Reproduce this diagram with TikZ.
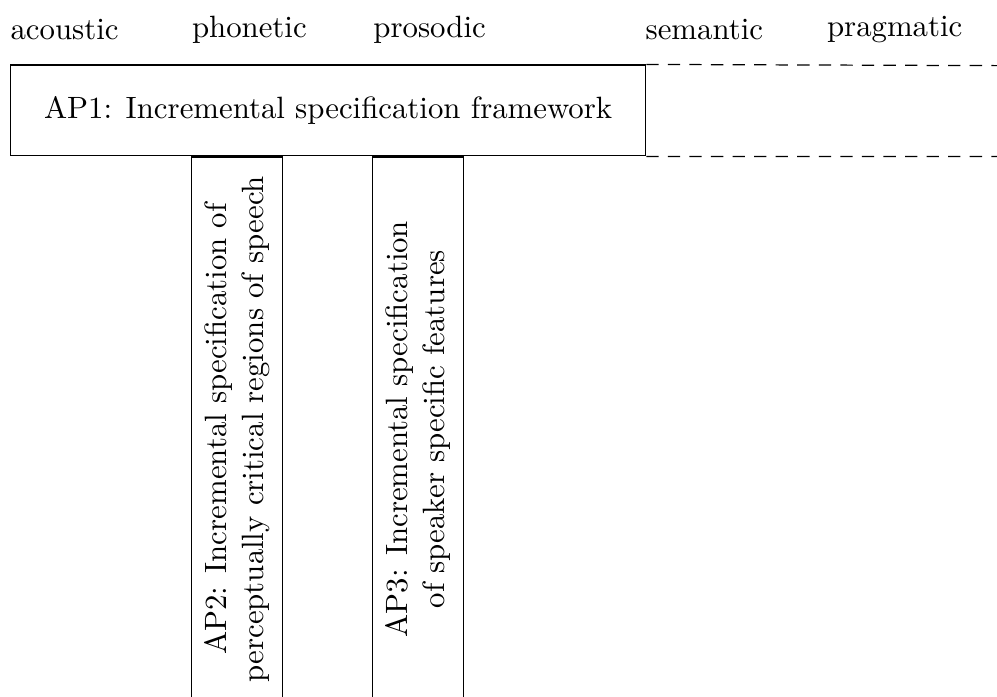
\documentclass[tikz,border=0pt]{standalone}
\usepackage{tikz}
\usetikzlibrary{positioning}

\begin{document}
\begin{tikzpicture}[
	x = 1.035cm, y = 1.035cm,
	every node/.style = {inner sep=0pt},
	level/.style = {anchor=west},
	wide box/.style = {draw, minimum width=7.245cm, minimum height=1.035cm, anchor=south west},
	tall box/.style = {draw, rotate=90, minimum width=6.21cm, minimum height=1.035cm, align=center, anchor=east},
	open edge/.style = {dash pattern=on 4pt off 3pt}
	]
	\clip (-0.11,-5.95) rectangle (10.88,1.724);
	% levels of description
	\node[level] (acoustic) at (0,1.4) {acoustic};
	\node[level] (phonetic)  [right=2.07cm of acoustic.west] {phonetic};
	\node[level] (prosodic)  [right=2.07cm of phonetic.west] {prosodic};
	\node[level] (semantic)  [right=3.105cm of prosodic.west] {semantic};
	\node[level] (pragmatic) [right=2.07cm of semantic.west] {pragmatic};
	% work packages
	\node[wide box] (AP1) at (0,0) {AP1: Incremental specification framework};
	\node[tall box] (AP2) at (2.5,0) {AP2: Incremental specification of\\perceptually critical regions of speech};
	\node[tall box] (AP3) at (4.5,0) {AP3: Incremental specification\\of speaker specific features};
	\coordinate (topend) at (11,1);
	\coordinate (bottomend) at (11,0);
	\draw[open edge] (AP1.north east) -- (topend)
		(AP1.south east) -- (bottomend);
\end{tikzpicture}
\end{document}
